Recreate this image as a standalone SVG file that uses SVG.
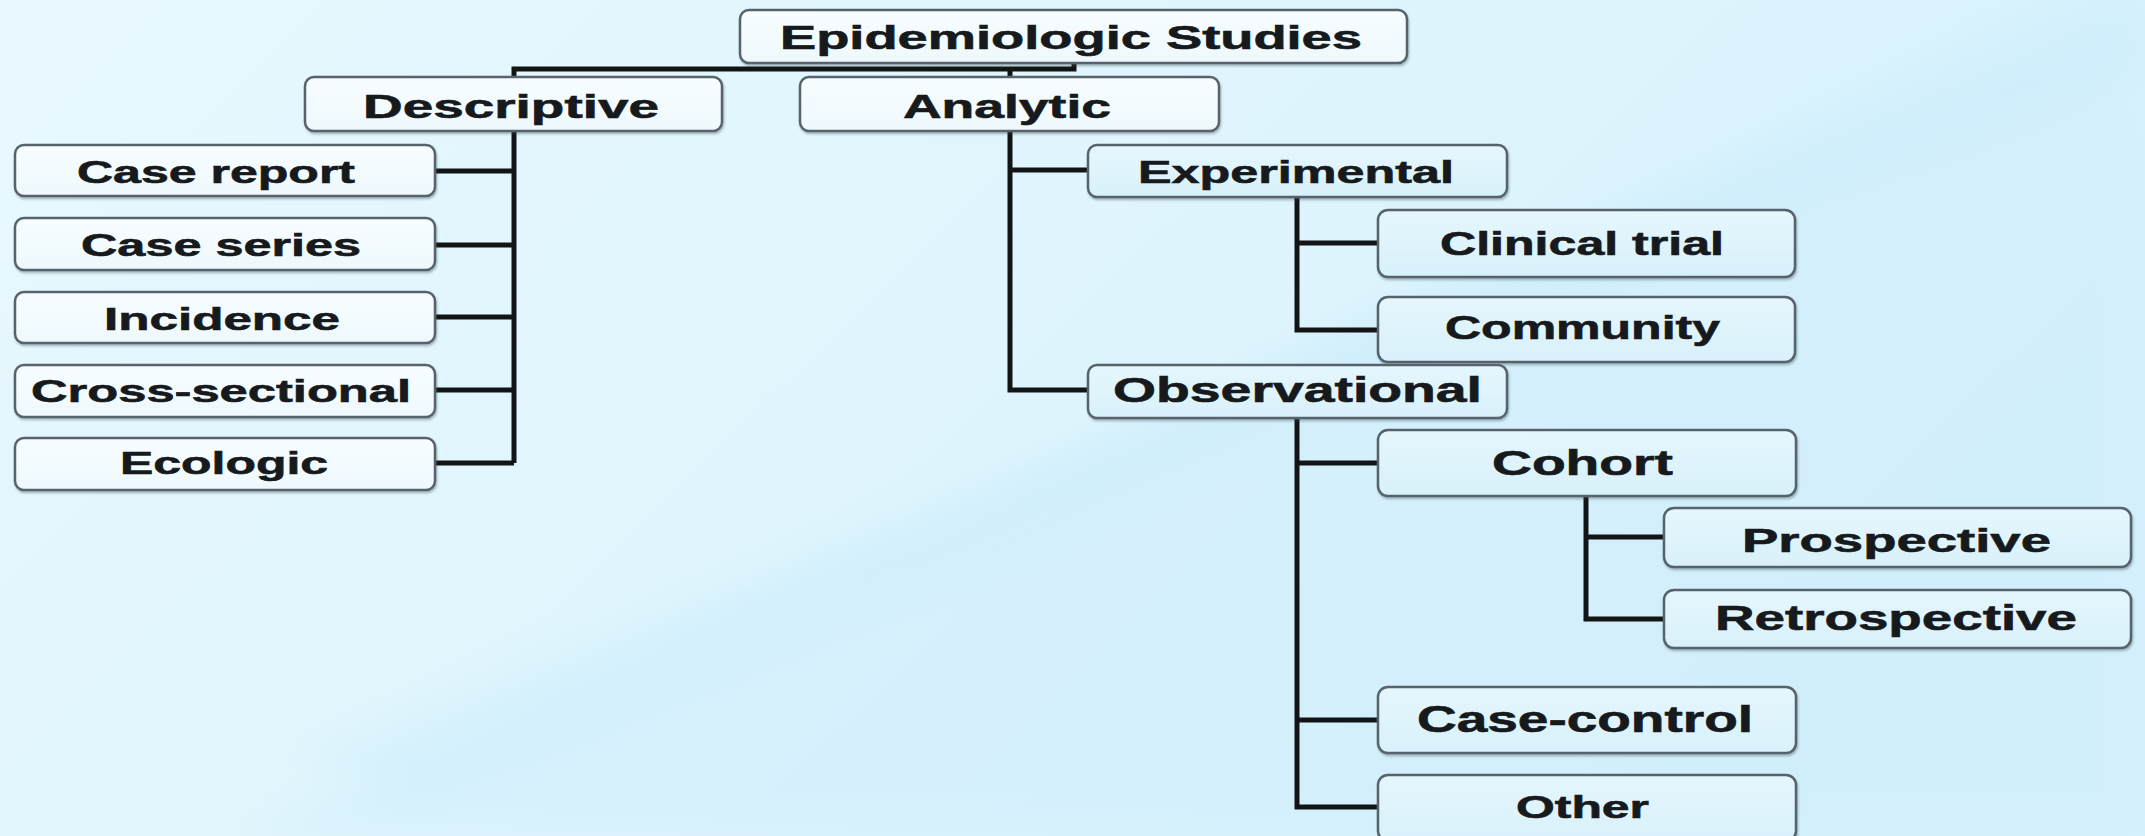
<svg xmlns="http://www.w3.org/2000/svg" width="2145" height="836" viewBox="0 0 2145 836">
  <defs>
    <linearGradient id="bg" x1="0" y1="0" x2="1" y2="0.4">
      <stop offset="0" stop-color="#e8f8fe"/>
      <stop offset="0.5" stop-color="#e0f5fd"/>
      <stop offset="1" stop-color="#d6f1fc"/>
    </linearGradient>
    <linearGradient id="boxLight" x1="0" y1="0" x2="0" y2="1">
      <stop offset="0" stop-color="#f8fdff"/>
      <stop offset="1" stop-color="#eef9fd"/>
    </linearGradient>
    <linearGradient id="boxBlue" x1="0" y1="0" x2="0" y2="1">
      <stop offset="0" stop-color="#e6f6fd"/>
      <stop offset="1" stop-color="#d8f1fb"/>
    </linearGradient>
    <filter id="soft" x="-20%" y="-20%" width="140%" height="140%">
      <feGaussianBlur stdDeviation="18"/>
    </filter>
    <filter id="shadow" x="-5%" y="-10%" width="110%" height="130%">
      <feDropShadow dx="1" dy="2" stdDeviation="1" flood-color="#33424a" flood-opacity="0.35"/>
    </filter>
    <style>
      .box { stroke: #56646c; stroke-width: 2.5; filter: url(#shadow); }
      .light { fill: url(#boxLight); }
      .blue { fill: url(#boxBlue); }
      .lbl { font-family: "Liberation Sans", Arial, sans-serif; font-weight: bold; fill: #161a1c; stroke: #161a1c; stroke-width: 0.6; }
      .link { fill: none; stroke: #121416; stroke-width: 5; stroke-linejoin: miter; stroke-linecap: butt; }
    </style>
  </defs>

  <!-- backdrop with a soft diagonal sweep -->
  <rect x="0" y="0" width="2145" height="836" fill="url(#bg)"/>
  <polygon points="250,836 2145,-40 2145,836" fill="#cdedfb" opacity="0.45" filter="url(#soft)"/>
  <polygon points="300,760 2145,10 2145,60 420,800" fill="#c8ebfa" opacity="0.35" filter="url(#soft)"/>

  <!-- connectors -->
  <g id="connectors" class="link">
    <path d="M1074,63 V69 H514 V77 M1010,69 V77"/>
    <path d="M514,131 V463 M435,171 H514 M435,245 H514 M435,317 H514 M435,390 H514 M435,463 H514"/>
    <path d="M1010,131 V390 H1088 M1010,170 H1088"/>
    <path d="M1297,197 V330 H1378 M1297,243 H1378"/>
    <path d="M1297,418 V807 H1378 M1297,463 H1378 M1297,720 H1378"/>
    <path d="M1586,496 V619 H1664 M1586,537 H1664"/>
  </g>

  <!-- root -->
  <g id="node-epidemiologic-studies">
    <rect class="box light" x="740" y="10" width="667" height="53" rx="9"/>
    <text class="lbl" x="780" y="49" font-size="33" textLength="582" lengthAdjust="spacingAndGlyphs">Epidemiologic Studies</text>
  </g>

  <!-- second level -->
  <g id="node-descriptive">
    <rect class="box light" x="305" y="77" width="417" height="54" rx="9"/>
    <text class="lbl" x="363" y="118" font-size="33" textLength="296" lengthAdjust="spacingAndGlyphs">Descriptive</text>
  </g>
  <g id="node-analytic">
    <rect class="box light" x="800" y="77" width="419" height="54" rx="9"/>
    <text class="lbl" x="903" y="118" font-size="33" textLength="208" lengthAdjust="spacingAndGlyphs">Analytic</text>
  </g>

  <!-- descriptive branch -->
  <g id="node-case-report">
    <rect class="box light" x="15" y="145" width="420" height="51" rx="9"/>
    <text class="lbl" x="77" y="183" font-size="32" textLength="278" lengthAdjust="spacingAndGlyphs">Case report</text>
  </g>
  <g id="node-case-series">
    <rect class="box light" x="15" y="218" width="420" height="52" rx="9"/>
    <text class="lbl" x="81" y="256" font-size="32" textLength="280" lengthAdjust="spacingAndGlyphs">Case series</text>
  </g>
  <g id="node-incidence">
    <rect class="box light" x="15" y="292" width="420" height="51" rx="9"/>
    <text class="lbl" x="104" y="330" font-size="32" textLength="236" lengthAdjust="spacingAndGlyphs">Incidence</text>
  </g>
  <g id="node-cross-sectional">
    <rect class="box light" x="15" y="365" width="420" height="52" rx="9"/>
    <text class="lbl" x="31" y="402" font-size="32" textLength="380" lengthAdjust="spacingAndGlyphs">Cross-sectional</text>
  </g>
  <g id="node-ecologic">
    <rect class="box light" x="15" y="438" width="420" height="52" rx="9"/>
    <text class="lbl" x="120" y="474" font-size="32" textLength="208" lengthAdjust="spacingAndGlyphs">Ecologic</text>
  </g>

  <!-- analytic branch -->
  <g id="node-experimental">
    <rect class="box blue" x="1088" y="145" width="419" height="52" rx="9"/>
    <text class="lbl" x="1138" y="183" font-size="32" textLength="316" lengthAdjust="spacingAndGlyphs">Experimental</text>
  </g>
  <g id="node-clinical-trial">
    <rect class="box blue" x="1378" y="210" width="417" height="67" rx="10"/>
    <text class="lbl" x="1440" y="255" font-size="33" textLength="284" lengthAdjust="spacingAndGlyphs">Clinical trial</text>
  </g>
  <g id="node-community">
    <rect class="box blue" x="1378" y="297" width="417" height="65" rx="10"/>
    <text class="lbl" x="1445" y="339" font-size="33" textLength="275" lengthAdjust="spacingAndGlyphs">Community</text>
  </g>
  <g id="node-observational">
    <rect class="box blue" x="1088" y="365" width="419" height="53" rx="9"/>
    <text class="lbl" x="1113" y="402" font-size="35" textLength="369" lengthAdjust="spacingAndGlyphs">Observational</text>
  </g>
  <g id="node-cohort">
    <rect class="box blue" x="1378" y="430" width="418" height="66" rx="10"/>
    <text class="lbl" x="1492" y="475" font-size="35" textLength="181" lengthAdjust="spacingAndGlyphs">Cohort</text>
  </g>
  <g id="node-prospective">
    <rect class="box blue" x="1664" y="508" width="467" height="59" rx="10"/>
    <text class="lbl" x="1742" y="552" font-size="33" textLength="309" lengthAdjust="spacingAndGlyphs">Prospective</text>
  </g>
  <g id="node-retrospective">
    <rect class="box blue" x="1664" y="590" width="467" height="58" rx="10"/>
    <text class="lbl" x="1715" y="630" font-size="35" textLength="362" lengthAdjust="spacingAndGlyphs">Retrospective</text>
  </g>
  <g id="node-case-control">
    <rect class="box blue" x="1378" y="687" width="418" height="66" rx="10"/>
    <text class="lbl" x="1417" y="732" font-size="36" textLength="336" lengthAdjust="spacingAndGlyphs">Case-control</text>
  </g>
  <g id="node-other">
    <rect class="box blue" x="1378" y="775" width="418" height="66" rx="10"/>
    <text class="lbl" x="1516" y="818" font-size="31" textLength="133" lengthAdjust="spacingAndGlyphs">Other</text>
  </g>
</svg>
